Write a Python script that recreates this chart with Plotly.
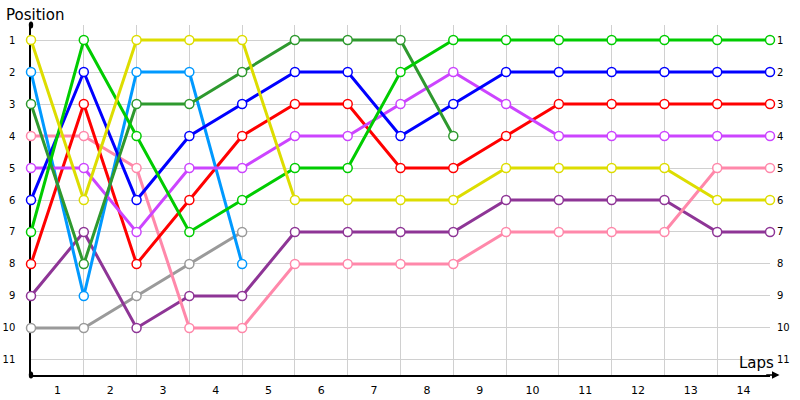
import plotly.graph_objs as go

# === Positionen pro Fahrer (Index = Rundengrenze 0..14) ===
laps = list(range(15))
lap_labels = [str(i) for i in range(1, 15)]
position_ticks = list(range(1, 12))

yellow = [1, 6, 1, 1, 1, 6, 6, 6, 6, 5, 5, 5, 5, 6, 6]
light_green = [7, 1, 4, 7, 6, 5, 5, 2, 1, 1, 1, 1, 1, 1, 1]
dark_green = [3, 8, 3, 3, 2, 1, 1, 1, 4, None, None, None, None, None, None]
blue = [6, 2, 6, 4, 3, 2, 2, 4, 3, 2, 2, 2, 2, 2, 2]
light_blue = [2, 9, 2, 2, 8, None, None, None, None, None, None, None, None, None, None]
red = [8, 3, 8, 6, 4, 3, 3, 5, 5, 4, 3, 3, 3, 3, 3]
pink = [4, 4, 5, 10, 10, 8, 8, 8, 8, 7, 7, 7, 7, 5, 5]
violet = [5, 5, 7, 5, 5, 4, 4, 3, 2, 3, 4, 4, 4, 4, 4]
purple = [9, 7, 10, 9, 9, 7, 7, 7, 7, 6, 6, 6, 6, 7, 7]
gray = [10, 10, 9, 8, 7, None, None, None, None, None, None, None, None, None, None]

series = [
    (gray, "#9a9a9a"),
    (purple, "#8e3596"),
    (pink, "#ff88aa"),
    (red, "#ff0000"),
    (light_blue, "#0099ff"),
    (violet, "#cc44ff"),
    (blue, "#0000ff"),
    (dark_green, "#2e992e"),
    (light_green, "#00cc00"),
    (yellow, "#dddd00"),
]

fig = go.Figure()

for values, color in series:
    fig.add_trace(go.Scatter(
        x=laps,
        y=values,
        mode="lines+markers",
        line=dict(color=color, width=3),
        marker=dict(symbol="circle", size=9, color="white",
                    line=dict(color=color, width=1.5)),
        cliponaxis=False,
        showlegend=False,
        hoverinfo="skip",
    ))

# Rechte Achse nur fuer die Beschriftung
fig.add_trace(go.Scatter(x=[None], y=[None], yaxis="y2", showlegend=False))

grid = "#d0d0d0"
font = dict(family="DejaVu Sans", size=10, color="#000000")

fig.update_layout(
    width=800, height=400,
    margin=dict(l=31, r=30, t=25, b=25),
    plot_bgcolor="white",
    paper_bgcolor="white",
    xaxis=dict(
        range=[0, 14],
        tickvals=[i + 0.5 for i in range(14)],
        ticktext=lap_labels,
        showgrid=False,
        ticks="",
        tickfont=dict(family="DejaVu Sans", size=11, color="#000000"),
        showline=True, linecolor="black", linewidth=1.5,
        zeroline=False,
        automargin=False,
        layer="below traces",
        ticklabelstandoff=4,
        minor=dict(tickvals=laps, showgrid=True, gridcolor=grid, gridwidth=1, ticks=""),
    ),
    yaxis=dict(
        range=[11.47, 0.53],
        tickvals=position_ticks,
        showgrid=True, gridcolor=grid, gridwidth=1,
        ticks="",
        tickfont=font,
        showline=True, linecolor="black", linewidth=1.5,
        zeroline=False,
        automargin=False,
        layer="below traces",
        ticklabelstandoff=12,
    ),
    yaxis2=dict(
        range=[11.47, 0.53],
        tickvals=position_ticks,
        overlaying="y",
        side="right",
        showgrid=False,
        ticks="",
        tickfont=font,
        zeroline=False,
        automargin=False,
        ticklabelstandoff=6,
    ),
    annotations=[
        dict(text="Position", xref="paper", yref="paper", x=-0.037, y=1.029,
             xanchor="left", yanchor="middle", showarrow=False,
             font=dict(family="DejaVu Sans", size=15, color="#000000")),
        dict(text="Laps", xref="paper", yref="paper", x=1.008, y=0.004,
             xanchor="right", yanchor="bottom", showarrow=False,
             font=dict(family="DejaVu Sans", size=15, color="#000000")),
        dict(x=14.18, y=11.47, ax=13.9, ay=11.47, xref="x", yref="y",
             axref="x", ayref="y", text="", showarrow=True,
             arrowhead=2, arrowsize=1, arrowwidth=1.5, arrowcolor="black"),
    ],
    shapes=[
        dict(type="circle", xref="paper", yref="paper",
             x0=-0.003, x1=0.003, y0=0.99, y1=1.01,
             fillcolor="black", line=dict(color="black", width=0)),
        dict(type="circle", xref="paper", yref="paper",
             x0=-0.003, x1=0.003, y0=-0.01, y1=0.01,
             fillcolor="black", line=dict(color="black", width=0)),
    ],
)

# Seitenrand entfernen, damit die Grafik bei (0,0) beginnt
fig.write_html(
    "out.html",
    config={"displayModeBar": False},
    post_script="document.body.style.margin='0';",
)
